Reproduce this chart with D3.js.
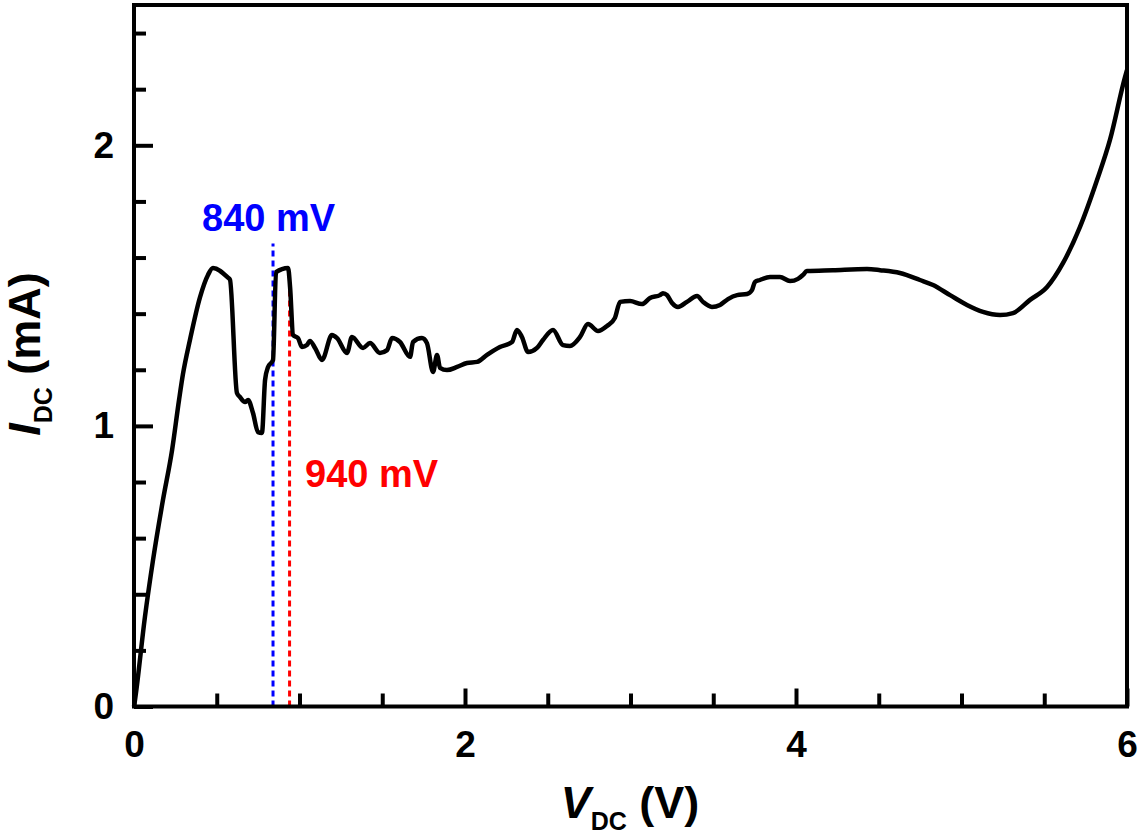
<!DOCTYPE html>
<meta charset="utf-8">
<style>
    body { margin: 0; background: white; }
    text { font-family: "Liberation Sans", Arial, sans-serif; font-weight: bold; }
    .axis path { display: none; }
    .axis line { stroke: black; stroke-width: 4px; }
    .axis text { font-size: 37px; fill: black; }
</style>
<body>
<div id="chart"></div>
<script src="https://d3js.org/d3.v7.min.js"></script>
<script>
// I-V curve
var vdc = [0, 0.006, 0.066, 0.115, 0.175, 0.230, 0.272, 0.296, 0.338, 0.399, 0.447, 0.477,
    0.568, 0.580, 0.622, 0.640, 0.671, 0.689, 0.719, 0.749, 0.773, 0.792, 0.810, 0.840,
    0.858, 0.931, 0.943, 0.961, 0.991, 1.015, 1.045, 1.063, 1.094, 1.136, 1.196, 1.227,
    1.287, 1.317, 1.384, 1.426, 1.486, 1.529, 1.559, 1.607, 1.668, 1.686, 1.740, 1.770,
    1.807, 1.831, 1.849, 1.891, 1.952, 2.012, 2.073, 2.133, 2.211, 2.284, 2.314, 2.344,
    2.381, 2.435, 2.471, 2.532, 2.592, 2.634, 2.695, 2.743, 2.804, 2.858, 2.906, 2.937,
    2.997, 3.069, 3.118, 3.178, 3.196, 3.221, 3.251, 3.287, 3.341, 3.402, 3.438, 3.492,
    3.541, 3.589, 3.644, 3.704, 3.734, 3.752, 3.782, 3.843, 3.903, 3.964, 4.012, 4.042,
    4.066, 4.224, 4.429, 4.508, 4.628, 4.749, 4.828, 4.931, 5.033, 5.130, 5.233, 5.311,
    5.414, 5.517, 5.613, 5.716, 5.819, 5.897, 5.988, 6.0];
var idc = [0, 0.023, 0.319, 0.522, 0.736, 0.914, 1.092, 1.185, 1.306, 1.459, 1.538, 1.563,
    1.528, 1.521, 1.117, 1.103, 1.085, 1.092, 1.046, 0.978, 0.975, 1.164, 1.210, 1.235,
    1.548, 1.563, 1.495, 1.324, 1.313, 1.281, 1.288, 1.303, 1.278, 1.235, 1.324, 1.313,
    1.260, 1.317, 1.278, 1.295, 1.260, 1.270, 1.313, 1.299, 1.246, 1.299, 1.313, 1.295,
    1.192, 1.253, 1.207, 1.199, 1.210, 1.224, 1.228, 1.253, 1.281, 1.299, 1.342, 1.317,
    1.263, 1.278, 1.306, 1.342, 1.288, 1.285, 1.317, 1.363, 1.338, 1.356, 1.385, 1.442,
    1.445, 1.434, 1.456, 1.466, 1.473, 1.466, 1.438, 1.424, 1.442, 1.463, 1.442, 1.424,
    1.431, 1.452, 1.466, 1.470, 1.484, 1.513, 1.520, 1.531, 1.531, 1.516, 1.524, 1.538,
    1.552, 1.555, 1.559, 1.555, 1.545, 1.520, 1.502, 1.466, 1.431, 1.406, 1.395, 1.402,
    1.449, 1.495, 1.580, 1.709, 1.876, 2.019, 2.243, 2.268];

var xMajor = [0, 2, 4, 6];
var xMinor = [0.5, 1, 1.5, 2.5, 3, 3.5, 4.5, 5, 5.5];
var yMajor = [0, 1, 2];
var yMinor = [0.2, 0.4, 0.6, 0.8, 1.2, 1.4, 1.6, 1.8, 2.2, 2.4];

// marker lines: voltage (V), top of line (mA), label
var markV = [0.84, 0.94];
var markTop = [1.65, 1.495];
var markText = ["840 mV", "940 mV"];
var markColor = ["#0000ff", "#ff0000"];

var width = 1140,
    height = 838;

var x = d3.scaleLinear().domain([0, 6]).range([134, 1127]);
var y = d3.scaleLinear().domain([0, 2.5]).range([706.5, 5]);

var svg = d3.select("#chart").append("svg")
    .attr("width", width)
    .attr("height", height);

// minor ticks
svg.append("g").attr("class", "axis")
    .attr("transform", "translate(0," + y(0) + ")")
    .call(d3.axisBottom(x).tickValues(xMinor).tickSize(-13).tickFormat(""));
svg.append("g").attr("class", "axis")
    .attr("transform", "translate(" + x(0) + ",0)")
    .call(d3.axisLeft(y).tickValues(yMinor).tickSize(-12).tickFormat(""));

// major ticks
svg.append("g").attr("class", "axis")
    .attr("transform", "translate(0," + y(0) + ")")
    .call(d3.axisBottom(x).tickValues(xMajor).tickSize(-18).tickPadding(24).tickFormat(d3.format("d")));
svg.append("g").attr("class", "axis")
    .attr("transform", "translate(" + x(0) + ",0)")
    .call(d3.axisLeft(y).tickValues(yMajor).tickSize(-19).tickPadding(20).tickFormat(d3.format("d")));

// dashed marker lines
markV.forEach(function(v, i) {
    svg.append("line")
        .attr("x1", x(v)).attr("x2", x(v))
        .attr("y1", y(0)).attr("y2", y(markTop[i]))
        .style("stroke", markColor[i])
        .style("stroke-width", 3)
        .style("stroke-dasharray", "6,4");
});

svg.append("text")
    .attr("x", 202).attr("y", 231)
    .style("font-size", "38px")
    .style("fill", markColor[0])
    .text(markText[0]);
svg.append("text")
    .attr("x", 305).attr("y", 487)
    .style("font-size", "38px")
    .style("fill", markColor[1])
    .text(markText[1]);

// curve
var pts = vdc.map(function(v, i) { return [v, idc[i]]; });
var line = d3.line()
    .x(function(d) { return x(d[0]); })
    .y(function(d) { return y(d[1]); })
    .curve(d3.curveMonotoneX);

svg.append("path")
    .datum(pts)
    .attr("d", line)
    .style("fill", "none")
    .style("stroke", "black")
    .style("stroke-width", 4.5)
    .style("stroke-linejoin", "round");

// frame
svg.append("rect")
    .attr("x", x(0)).attr("y", y(2.5))
    .attr("width", x(6) - x(0))
    .attr("height", y(0) - y(2.5))
    .style("fill", "none")
    .style("stroke", "black")
    .style("stroke-width", 4);

// axis titles
var xt = svg.append("text")
    .attr("x", 630).attr("y", 818)
    .attr("text-anchor", "middle")
    .style("font-size", "45px");
xt.append("tspan").style("font-style", "italic").text("V");
xt.append("tspan").attr("dy", 12).style("font-size", "25px").text("DC");
xt.append("tspan").attr("dy", -12).text(" (V)");

var yt = svg.append("text")
    .attr("transform", "translate(40," + 354 + ") rotate(-90)")
    .attr("text-anchor", "middle")
    .style("font-size", "45px");
yt.append("tspan").style("font-style", "italic").text("I");
yt.append("tspan").attr("dy", 12).style("font-size", "25px").text("DC");
yt.append("tspan").attr("dy", -12).text(" (mA)");
</script>
</body>
</html>
